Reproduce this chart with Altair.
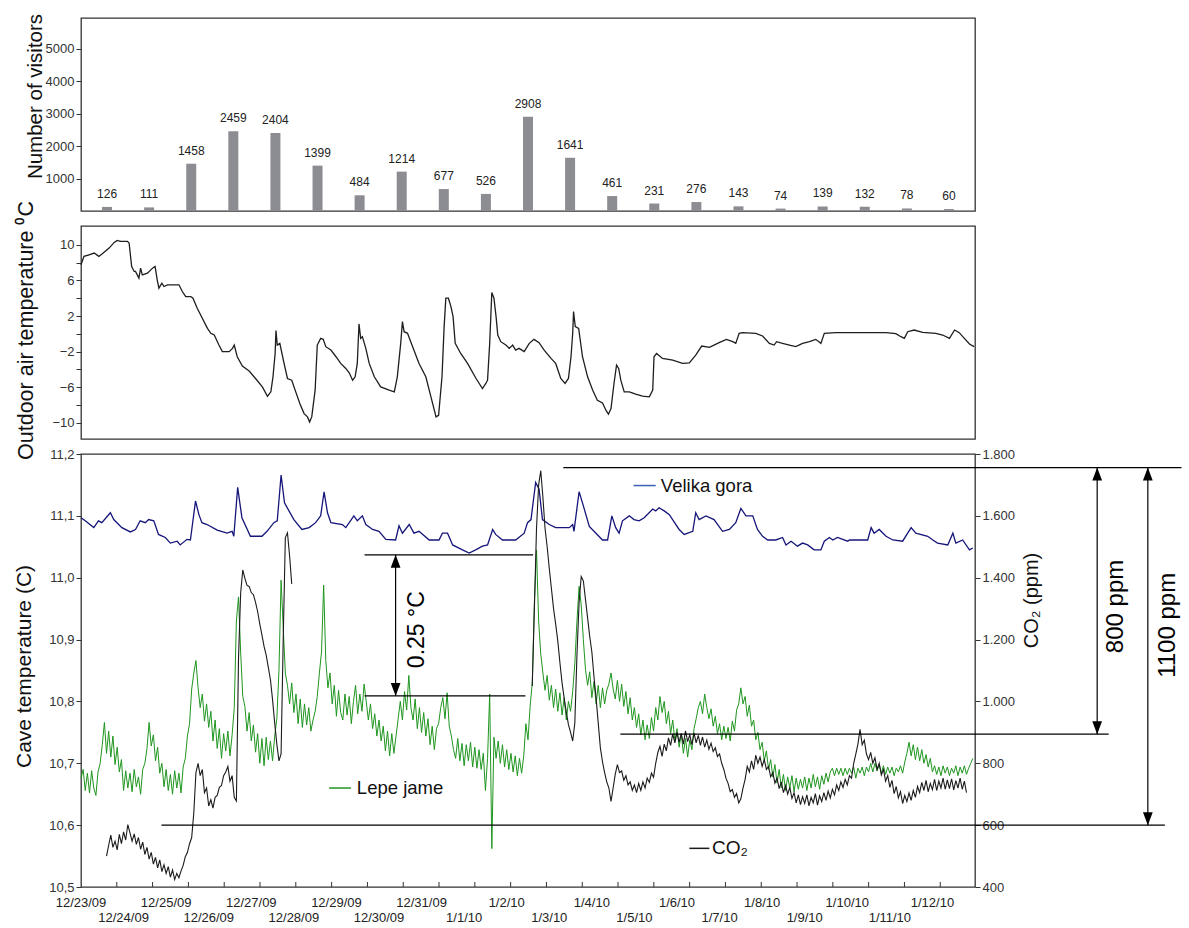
import altair as alt
import pandas as pd

FONT = "Liberation Sans"

# ---------------- data ----------------
date_labels = ["12/23/09", "12/24/09", "12/25/09", "12/26/09", "12/27/09", "12/28/09",
               "12/29/09", "12/30/09", "12/31/09", "1/1/10", "1/2/10", "1/3/10", "1/4/10",
               "1/5/10", "1/6/10", "1/7/10", "1/8/10", "1/9/10", "1/10/10", "1/11/10", "1/12/10"]

visitors = [126, 111, 1458, 2459, 2404, 1399, 484, 1214, 677, 526, 2908, 1641, 461, 231,
            276, 143, 74, 139, 132, 78, 60]

# outdoor air temperature (day since 12/23/09 00:00, degC)
outdoor = [(0.00, 7.75), (0.07, 8.69), (0.19, 8.87), (0.31, 9.06), (0.42, 8.69), (0.50, 8.99),
           (0.66, 9.62), (0.78, 10.26), (0.85, 10.49), (0.93, 10.38), (1.09, 10.38), (1.13, 10.19),
           (1.19, 7.56), (1.25, 7.0), (1.28, 7.0), (1.36, 6.25), (1.40, 7.37), (1.44, 6.62),
           (1.56, 6.81), (1.68, 7.37), (1.74, 7.56), (1.79, 6.06), (1.83, 5.12), (1.90, 5.68),
           (1.95, 5.31), (2.03, 5.50), (2.22, 5.50), (2.30, 5.50), (2.38, 4.75), (2.46, 4.18),
           (2.58, 4.18), (2.63, 4.0), (2.73, 2.87), (2.85, 1.74), (2.97, 0.62), (3.05, 0.06),
           (3.13, -0.13), (3.24, -1.26), (3.32, -2.0), (3.48, -2.0), (3.56, -1.63), (3.60, -1.26),
           (3.67, -2.57), (3.79, -3.62), (3.95, -4.18), (4.10, -5.01), (4.26, -5.95), (4.38, -7.0),
           (4.46, -6.51), (4.51, -4.82), (4.56, -2.2), (4.58, 0.36), (4.61, -1.26), (4.67, -1.07),
           (4.77, -3.32), (4.85, -5.01), (4.95, -5.2), (5.03, -6.32), (5.14, -7.82), (5.24, -8.95),
           (5.32, -9.32), (5.37, -9.89), (5.42, -9.32), (5.50, -6.32), (5.55, -1.26), (5.63, -0.51),
           (5.69, -0.62), (5.75, -1.44), (5.87, -1.82), (5.99, -2.57), (6.10, -3.32), (6.22, -3.88),
           (6.30, -4.37), (6.38, -5.2), (6.44, -4.82), (6.49, -3.32), (6.53, 1.11), (6.57, -0.51),
           (6.61, -0.32), (6.69, -1.63), (6.77, -3.32), (6.89, -4.82), (7.04, -5.95), (7.24, -6.32),
           (7.36, -6.51), (7.43, -4.82), (7.51, -1.07), (7.55, 1.37), (7.59, 0.24), (7.67, 0.06),
           (7.79, -1.44), (7.94, -3.32), (8.10, -4.82), (8.22, -7.07), (8.34, -9.32), (8.40, -9.14),
           (8.48, -4.82), (8.53, 0.81), (8.57, 4.0), (8.63, 4.0), (8.69, 3.06), (8.74, 1.93),
           (8.79, -1.07), (8.92, -2.2), (9.08, -3.32), (9.28, -5.01), (9.43, -6.14), (9.51, -5.57),
           (9.55, -5.2), (9.60, -1.07), (9.65, 4.63), (9.70, 4.0), (9.75, 1.93), (9.79, -0.13),
           (9.86, -0.88), (9.98, -1.26), (10.06, -1.63), (10.14, -1.26), (10.21, -1.82), (10.29, -1.63),
           (10.41, -2.0), (10.53, -1.07), (10.64, -0.62), (10.76, -0.99), (10.88, -1.82), (11.04, -2.76),
           (11.15, -3.32), (11.27, -5.01), (11.37, -5.57), (11.45, -5.01), (11.51, -2.57), (11.55, 0.06),
           (11.57, 2.50), (11.61, 0.81), (11.69, 0.62), (11.78, -2.57), (11.90, -4.82), (12.02, -6.32),
           (12.13, -7.45), (12.25, -7.75), (12.33, -8.57), (12.39, -9.02), (12.45, -8.39), (12.52, -5.57),
           (12.58, -3.51), (12.63, -3.88), (12.68, -5.2), (12.76, -6.51), (12.88, -6.51), (13.03, -6.77),
           (13.19, -7.0), (13.35, -7.07), (13.43, -6.32), (13.46, -2.57), (13.52, -2.2), (13.66, -2.76),
           (13.90, -2.95), (14.13, -3.32), (14.29, -3.25), (14.44, -2.38), (14.58, -1.37), (14.76, -1.52),
           (14.99, -0.99), (15.16, -0.62), (15.31, -0.88), (15.38, -1.07), (15.46, 0.06), (15.54, 0.13),
           (15.85, 0.06), (16.01, -0.24), (16.17, -1.07), (16.28, -1.26), (16.34, -0.88), (16.48, -1.07),
           (16.64, -1.26), (16.79, -1.44), (16.95, -1.07), (17.11, -0.88), (17.26, -0.62), (17.38, -1.07),
           (17.46, 0.06), (17.73, 0.13), (18.36, 0.13), (18.91, 0.13), (19.14, 0.02), (19.26, -0.32),
           (19.34, -0.51), (19.42, 0.24), (19.57, 0.43), (19.77, 0.17), (20.08, 0.06), (20.24, -0.13),
           (20.40, -0.51), (20.52, 0.43), (20.63, 0.13), (20.75, -0.51), (20.87, -1.14), (20.98, -1.44)]

# Velika gora cave temperature (day, degC)
velika_gora = [(0.0, 11.097), (0.10, 11.092), (0.30, 11.081), (0.41, 11.092), (0.49, 11.089),
               (0.69, 11.105), (0.77, 11.094), (0.96, 11.081), (1.16, 11.074), (1.28, 11.078),
               (1.39, 11.092), (1.51, 11.089), (1.59, 11.094), (1.71, 11.092), (1.82, 11.070),
               (1.98, 11.065), (2.10, 11.056), (2.26, 11.059), (2.33, 11.053), (2.49, 11.062),
               (2.57, 11.061), (2.69, 11.124), (2.77, 11.102), (2.84, 11.089), (2.96, 11.086),
               (3.20, 11.077), (3.43, 11.072), (3.55, 11.075), (3.59, 11.067), (3.68, 11.146),
               (3.78, 11.097), (3.98, 11.067), (4.25, 11.067), (4.37, 11.075), (4.53, 11.089),
               (4.61, 11.092), (4.70, 11.166), (4.78, 11.121), (5.00, 11.094), (5.19, 11.078),
               (5.36, 11.081), (5.51, 11.089), (5.63, 11.100), (5.71, 11.139), (5.79, 11.105),
               (5.87, 11.089), (6.14, 11.086), (6.22, 11.081), (6.41, 11.100), (6.49, 11.092),
               (6.61, 11.100), (6.69, 11.086), (6.85, 11.078), (7.00, 11.075), (7.16, 11.062),
               (7.39, 11.061), (7.47, 11.084), (7.55, 11.072), (7.71, 11.086), (7.82, 11.072),
               (7.94, 11.075), (8.18, 11.061), (8.41, 11.061), (8.49, 11.072), (8.61, 11.072),
               (8.73, 11.053), (8.96, 11.045), (9.12, 11.040), (9.27, 11.045), (9.43, 11.051),
               (9.55, 11.053), (9.67, 11.078), (9.74, 11.070), (9.90, 11.061), (10.21, 11.061),
               (10.41, 11.072), (10.49, 11.089), (10.57, 11.094), (10.68, 11.154), (10.76, 11.143),
               (10.84, 11.094), (11.00, 11.086), (11.15, 11.081), (11.47, 11.081), (11.55, 11.086),
               (11.58, 11.075), (11.70, 11.139), (11.78, 11.121), (11.94, 11.083), (12.05, 11.075),
               (12.25, 11.061), (12.37, 11.061), (12.47, 11.100), (12.56, 11.081), (12.64, 11.072),
               (12.72, 11.092), (12.88, 11.100), (12.99, 11.094), (13.11, 11.092), (13.23, 11.097),
               (13.43, 11.111), (13.50, 11.108), (13.58, 11.113), (13.70, 11.108), (13.82, 11.102),
               (14.05, 11.078), (14.17, 11.070), (14.37, 11.075), (14.44, 11.105), (14.52, 11.094),
               (14.68, 11.100), (14.87, 11.094), (15.07, 11.075), (15.23, 11.078), (15.38, 11.089),
               (15.50, 11.112), (15.62, 11.100), (15.78, 11.100), (15.89, 11.078), (16.01, 11.067),
               (16.13, 11.061), (16.32, 11.061), (16.48, 11.065), (16.56, 11.053), (16.68, 11.059),
               (16.83, 11.051), (16.95, 11.056), (17.07, 11.053), (17.22, 11.045), (17.38, 11.045),
               (17.46, 11.059), (17.58, 11.065), (17.66, 11.061), (17.77, 11.065), (18.01, 11.059),
               (18.05, 11.061), (18.48, 11.061), (18.56, 11.081), (18.63, 11.072), (18.75, 11.078),
               (18.91, 11.067), (19.07, 11.061), (19.30, 11.059), (19.50, 11.081), (19.61, 11.072),
               (19.89, 11.067), (20.01, 11.061), (20.12, 11.056), (20.36, 11.053), (20.48, 11.072),
               (20.55, 11.056), (20.71, 11.061), (20.87, 11.045), (20.95, 11.048)]

# Lepe jame cave temperature, one reading every 0.05 day from 12/23/09 00:00 (20 per day)
lepe_jame = [
    # 12/23
    10.676, 10.690, 10.656, 10.684, 10.652, 10.688, 10.660, 10.648, 10.686, 10.700,
    10.730, 10.766, 10.716, 10.752, 10.710, 10.744, 10.698, 10.726, 10.686, 10.706,
    # 12/24
    10.656, 10.688, 10.660, 10.684, 10.654, 10.690, 10.662, 10.678, 10.650, 10.690,
    10.700, 10.724, 10.766, 10.728, 10.746, 10.704, 10.726, 10.684, 10.700, 10.662,
    # 12/25
    10.690, 10.656, 10.682, 10.650, 10.688, 10.660, 10.684, 10.652, 10.694, 10.708,
    10.744, 10.764, 10.820, 10.846, 10.866, 10.822, 10.790, 10.812, 10.768, 10.796,
    # 12/26
    10.758, 10.784, 10.736, 10.770, 10.724, 10.756, 10.708, 10.748, 10.720, 10.752,
    10.712, 10.746, 10.790, 10.930, 10.969, 10.880, 10.808, 10.792, 10.752, 10.782,
    # 12/27
    10.736, 10.762, 10.718, 10.748, 10.700, 10.740, 10.696, 10.742, 10.706, 10.736,
    10.704, 10.744, 10.772, 10.850, 10.996, 10.920, 10.846, 10.826, 10.796, 10.830,
    # 12/28
    10.782, 10.812, 10.764, 10.804, 10.758, 10.796, 10.762, 10.790, 10.752, 10.770,
    10.784, 10.808, 10.846, 10.880, 10.988, 10.866, 10.822, 10.846, 10.796, 10.826,
    # 12/29
    10.776, 10.818, 10.782, 10.770, 10.812, 10.778, 10.808, 10.764, 10.800, 10.826,
    10.780, 10.812, 10.784, 10.828, 10.800, 10.770, 10.796, 10.756, 10.780, 10.744,
    # 12/30
    10.770, 10.736, 10.760, 10.720, 10.752, 10.712, 10.748, 10.716, 10.744, 10.772,
    10.800, 10.770, 10.816, 10.786, 10.842, 10.790, 10.770, 10.804, 10.756, 10.790,
    # 12/31
    10.750, 10.782, 10.744, 10.772, 10.730, 10.760, 10.722, 10.756, 10.764, 10.790,
    10.806, 10.772, 10.814, 10.760, 10.744, 10.722, 10.708, 10.740, 10.704, 10.732,
    # 1/1
    10.696, 10.730, 10.704, 10.734, 10.694, 10.726, 10.692, 10.722, 10.690, 10.716,
    10.656, 10.708, 10.812, 10.562, 10.742, 10.708, 10.736, 10.700, 10.730, 10.694,
    # 1/2
    10.722, 10.690, 10.716, 10.686, 10.712, 10.680, 10.708, 10.684, 10.712, 10.764,
    10.738, 10.792, 10.830, 10.960, 11.045, 10.930, 10.876, 10.846, 10.818, 10.842,
    # 1/3
    10.802, 10.826, 10.790, 10.820, 10.784, 10.814, 10.778, 10.806, 10.770, 10.800,
    10.784, 10.816, 10.862, 10.930, 10.986, 10.956, 10.900, 10.852, 10.826, 10.848,
    # 1/4
    10.806, 10.832, 10.796, 10.826, 10.790, 10.822, 10.796, 10.818, 10.828, 10.846,
    10.820, 10.804, 10.834, 10.800, 10.828, 10.792, 10.816, 10.780, 10.806, 10.770,
    # 1/5
    10.790, 10.758, 10.780, 10.746, 10.770, 10.738, 10.762, 10.740, 10.774, 10.752,
    10.790, 10.770, 10.808, 10.782, 10.800, 10.764, 10.784, 10.748, 10.770, 10.736,
    # 1/6
    10.756, 10.726, 10.748, 10.716, 10.740, 10.710, 10.738, 10.722, 10.756, 10.772,
    10.790, 10.800, 10.780, 10.812, 10.790, 10.772, 10.788, 10.760, 10.776, 10.748,
    # 1/7
    10.764, 10.738, 10.760, 10.740, 10.758, 10.736, 10.768, 10.752, 10.786, 10.796,
    10.822, 10.796, 10.808, 10.776, 10.794, 10.760, 10.770, 10.738, 10.750, 10.722,
    # 1/8
    10.734, 10.704, 10.720, 10.690, 10.706, 10.678, 10.698, 10.668, 10.690, 10.660,
    10.682, 10.656, 10.678, 10.660, 10.680, 10.654, 10.676, 10.658, 10.674, 10.660,
    # 1/9
    10.678, 10.656, 10.676, 10.660, 10.682, 10.662, 10.678, 10.658, 10.680, 10.666,
    10.684, 10.670, 10.686, 10.692, 10.680, 10.692, 10.682, 10.692, 10.680, 10.692,
    # 1/10
    10.682, 10.692, 10.684, 10.694, 10.676, 10.692, 10.684, 10.694, 10.680, 10.694,
    10.686, 10.700, 10.686, 10.700, 10.688, 10.698, 10.684, 10.696, 10.682, 10.694,
    # 1/11
    10.684, 10.694, 10.680, 10.692, 10.686, 10.696, 10.684, 10.702, 10.716, 10.734,
    10.712, 10.730, 10.706, 10.726, 10.704, 10.722, 10.700, 10.714, 10.694, 10.708,
    # 1/12
    10.686, 10.696, 10.682, 10.694, 10.680, 10.696, 10.684, 10.694, 10.680, 10.692,
    10.684, 10.696, 10.680, 10.694, 10.684, 10.696, 10.682, 10.692, 10.700, 10.708,
]
lepe_step = 0.05

# CO2 (ppm), one reading every 0.05 day; first run starts at day 0.6, second at day 10.6
co2_step = 0.05
co2_start = [0.6, 10.6]
co2_run1 = [
    500, 535, 568, 528, 548, 520, 570, 540,
    578, 552, 602, 575, 548, 572, 538, 560, 522, 545, 505, 528, 490, 512, 474, 496, 462, 488, 450, 472,
    444, 466, 432, 455, 424, 444, 430, 452, 470, 498, 512, 540, 560, 640, 770, 800, 760, 780, 705, 720,
    662, 682, 655, 690, 696, 722, 728, 760, 772, 790, 742, 760, 690, 678, 1140, 1350, 1425, 1398, 1375, 1372,
    1352, 1345, 1320, 1290, 1250, 1215, 1178, 1150, 1110, 1070, 1005, 930, 862, 808, 830, 1200, 1530, 1545, 1470, 1380,
]
co2_run2 = [
    1050, 1300, 1560, 1700, 1746, 1660, 1560, 1500,
    1430, 1365, 1300, 1250, 1195, 1125, 1060, 1010, 965, 925, 900, 872, 930, 1150, 1320, 1404, 1390, 1330, 1270, 1210,
    1160, 1080, 1010, 930, 850, 805, 770, 740, 720, 677, 720, 765, 796, 770, 775, 745, 760, 730, 740, 712,
    730, 705, 735, 712, 740, 720, 752, 738, 768, 755, 800, 835, 855, 822, 862, 840, 882, 858, 895, 866,
    900, 868, 896, 862, 905, 870, 892, 860, 898, 866, 890, 858, 885, 852, 875, 845, 865, 838, 850, 822,
    830, 800, 780, 752, 735, 708, 715, 690, 702, 672, 685, 720, 748, 790, 772, 808, 780, 826, 800, 820,
    790, 812, 780, 790, 756, 770, 736, 752, 718, 740, 705, 728, 700, 722, 686, 705, 672, 698, 666, 692,
    670, 698, 662, 690, 672, 702, 665, 695, 676, 705, 680, 710, 688, 716, 698, 730, 712, 740, 722, 748,
    730, 760, 752, 800, 830, 862, 910, 860, 875, 830, 812, 835, 800, 818, 780, 800, 762, 780, 742, 760,
    722, 745, 702, 725, 688, 708, 670, 696, 676, 704, 680, 712, 690, 725, 705, 738, 712, 745, 708, 735,
    715, 748, 712, 742, 720, 752, 716, 746, 718, 750, 714, 744, 720, 752, 716, 742, 705,
]

# ---------------- layout / styling ----------------
W = 894
H_TOP, H_MID, H_BOT = 193, 213, 433

xs = alt.Scale(domain=[0, 21], nice=False, zero=False)
X = alt.X("day:Q", scale=xs, axis=None)

axis_common = dict(domain=False, grid=False, labelFont=FONT, labelFontSize=13,
                   labelColor="#333", tickColor="#333", tickSize=5,
                   titleFont=FONT, titleFontWeight="normal", titleColor="#111")

# ---- top: visitors ----
bars_df = pd.DataFrame({"day": [i + 0.5 for i in range(len(visitors))], "visitors": visitors})
Y_top = alt.Y("visitors:Q", scale=alt.Scale(domain=[0, 5950], nice=False),
              axis=alt.Axis(values=[1000, 2000, 3000, 4000, 5000], format="d",
                            title="Number of visitors", titleX=-40, titleY=78, titleFontSize=20.5,
                            titleBaseline="alphabetic", **axis_common))
top = alt.layer(
    alt.Chart(bars_df).mark_bar(size=10, color="#8b8d93").encode(x=X, y=Y_top),
    alt.Chart(bars_df).mark_text(dy=-13, font=FONT, fontSize=12, color="#222").encode(
        x=X, y=Y_top, text=alt.Text("visitors:Q", format="d")),
).properties(width=W, height=H_TOP)

# ---- middle: outdoor temperature ----
out_df = pd.DataFrame(outdoor, columns=["day", "t"])
mid = alt.Chart(out_df).mark_line(color="#1e1e1e", strokeWidth=1.3).encode(
    x=X,
    y=alt.Y("t:Q", scale=alt.Scale(domain=[-11.8, 12.1], nice=False, zero=False),
            axis=alt.Axis(values=[-10, -8, -6, -4, -2, 0, 2, 4, 6, 8, 10],
                          labelExpr="abs(datum.value % 4) == 2 ? datum.label : ''",
                          title="Outdoor air temperature \u2070C", titleX=-49, titleY=104,
                          titleFontSize=21.5, titleBaseline="alphabetic", **axis_common)),
).properties(width=W, height=H_MID)

# ---- bottom: cave temperatures + CO2 ----
Y_L = alt.Y("T:Q", scale=alt.Scale(domain=[10.5, 11.2], nice=False, zero=False),
            axis=alt.Axis(values=[10.5, 10.6, 10.7, 10.8, 10.9, 11.0, 11.1, 11.2],
                          labelExpr="replace(format(datum.value, '.1f'), '.', ',')",
                          title="Cave temperature (C)", titleX=-51, titleY=212, titleFontSize=21,
                          titleBaseline="alphabetic", **axis_common))
Y_R = alt.Y("ppm:Q", scale=alt.Scale(domain=[400, 1800], nice=False, zero=False),
            axis=alt.Axis(orient="right", values=[400, 600, 800, 1000, 1200, 1400, 1600, 1800],
                          labelExpr="replace(format(datum.value, ','), ',', '.')",
                          title="CO\u2082 (ppm)", titleAngle=270, titleBaseline="top",
                          titleFontSize=20, titlePadding=7, titleY=146, **axis_common))

UP = "M0,-1L0.6,0.6L-0.6,0.6Z"
DOWN = "M0,1L0.6,-0.6L-0.6,-0.6Z"

lepe_df = pd.DataFrame({"day": [round(i * lepe_step, 3) for i in range(len(lepe_jame))], "T": lepe_jame})
vel_df = pd.DataFrame(velika_gora, columns=["day", "T"])

green_line = alt.Chart(lepe_df).mark_line(color="#1f951f", strokeWidth=1).encode(x=X, y=Y_L)
blue_line = alt.Chart(vel_df).mark_line(color="#15157a", strokeWidth=1.3).encode(x=X, y=Y_L)

bracket_c = pd.DataFrame({"day": [6.66, 6.66], "day2": [10.62, 10.44], "T": [11.037, 10.809]})
hl_c = alt.Chart(bracket_c).mark_rule(color="black", strokeWidth=1.2).encode(x=X, x2="day2:Q", y=Y_L)
arrow_c = pd.DataFrame({"day": [7.39], "T": [10.809], "T2": [11.037]})
va_c = alt.Chart(arrow_c).mark_rule(color="black", strokeWidth=1.2).encode(x=X, y=Y_L, y2="T2:Q")
up_c = alt.Chart(pd.DataFrame({"day": [7.39], "T": [11.037]})).mark_point(
    shape=UP, size=264, filled=True, color="black", opacity=1, yOffset=8).encode(x=X, y=Y_L)
dn_c = alt.Chart(pd.DataFrame({"day": [7.39], "T": [10.809]})).mark_point(
    shape=DOWN, size=264, filled=True, color="black", opacity=1, yOffset=-8).encode(x=X, y=Y_L)
txt_c = alt.Chart(pd.DataFrame({"day": [7.90], "T": [10.916], "label": ["0.25 \u00b0C"]})).mark_text(
    angle=270, font=FONT, fontSize=23, color="black").encode(x=X, y=Y_L, text="label:N")

leg_lines = pd.DataFrame({"day": [12.98, 5.83], "day2": [13.50, 6.34], "T": [11.149, 10.660],
                          "series": ["Velika gora", "Lepe jame"]})
leg_rule = alt.Chart(leg_lines).mark_rule(strokeWidth=1.5).encode(
    x=X, x2="day2:Q", y=Y_L,
    color=alt.Color("series:N", scale=alt.Scale(domain=["Velika gora", "Lepe jame"],
                                                range=["#3d5fb8", "#1f951f"]), legend=None))
leg_txt = alt.Chart(pd.DataFrame({"day": [13.62, 6.48], "T": [11.149, 10.660],
                                  "label": ["Velika gora", "Lepe jame"]})).mark_text(
    align="left", font=FONT, fontSize=18.5, color="#111").encode(x=X, y=Y_L, text="label:N")

lab_df = pd.DataFrame({"day": list(range(len(date_labels))), "label": date_labels})
xl_even = alt.Chart(lab_df).transform_filter("datum.day % 2 == 0").mark_text(
    font=FONT, fontSize=13, color="#222").encode(x=X, y=alt.value(H_BOT + 16), text="label:N")
xl_odd = alt.Chart(lab_df).transform_filter("datum.day % 2 == 1").mark_text(
    font=FONT, fontSize=13, color="#222").encode(x=X, y=alt.value(H_BOT + 31), text="label:N")
tick_df = pd.DataFrame({"day": [round(0.841 * k, 3) for k in range(1, 25)]})
xt = alt.Chart(tick_df).mark_rule(color="#333").encode(x=X, y=alt.value(H_BOT), y2=alt.value(H_BOT - 5))

left_grp = alt.layer(green_line, blue_line, hl_c, va_c, up_c, dn_c, txt_c,
                     leg_rule, leg_txt, xl_even, xl_odd, xt)

co2_df = pd.concat([
    pd.DataFrame({"day": [round(co2_start[0] + co2_step * i, 3) for i in range(len(co2_run1))],
                  "ppm": co2_run1, "seg": "a"}),
    pd.DataFrame({"day": [round(co2_start[1] + co2_step * i, 3) for i in range(len(co2_run2))],
                  "ppm": co2_run2, "seg": "b"}),
])
co2_line = alt.Chart(co2_df).mark_line(color="#1b1b1b", strokeWidth=1.1).encode(
    x=X, y=Y_R, detail="seg:N")

hl_p = alt.Chart(pd.DataFrame({"day": [11.33, 12.67, 1.89], "day2": [25.85, 24.14, 25.46],
                               "ppm": [1756, 894, 600]})).mark_rule(
    color="black", strokeWidth=1.2).encode(x=X, x2="day2:Q", y=Y_R)
va_p = alt.Chart(pd.DataFrame({"day": [23.87, 25.06], "ppm": [894, 600], "ppm2": [1756, 1756]})).mark_rule(
    color="black", strokeWidth=1.2).encode(x=X, y=Y_R, y2="ppm2:Q")
up_p = alt.Chart(pd.DataFrame({"day": [23.87, 25.06], "ppm": [1756, 1756]})).mark_point(
    shape=UP, size=264, filled=True, color="black", opacity=1, yOffset=8).encode(x=X, y=Y_R)
dn_p = alt.Chart(pd.DataFrame({"day": [23.87, 25.06], "ppm": [894, 600]})).mark_point(
    shape=DOWN, size=264, filled=True, color="black", opacity=1, yOffset=-8).encode(x=X, y=Y_R)
txt_p = alt.Chart(pd.DataFrame({"day": [24.31, 25.53], "ppm": [1307, 1246],
                                "label": ["800 ppm", "1100 ppm"]})).mark_text(
    angle=270, font=FONT, fontSize=24, color="black").encode(x=X, y=Y_R, text="label:N")
co2_leg_rule = alt.Chart(pd.DataFrame({"day": [14.29], "day2": [14.76], "ppm": [525]})).mark_rule(
    color="#1b1b1b", strokeWidth=1.5).encode(x=X, x2="day2:Q", y=Y_R)
co2_leg_txt = alt.Chart(pd.DataFrame({"day": [14.82], "ppm": [525], "label": ["CO\u2082"]})).mark_text(
    align="left", font=FONT, fontSize=19, color="#111").encode(x=X, y=Y_R, text="label:N")

right_grp = alt.layer(co2_line, hl_p, va_p, up_p, dn_p, txt_p, co2_leg_rule, co2_leg_txt)

bot = alt.layer(left_grp, right_grp).resolve_scale(y="independent").properties(width=W, height=H_BOT)

chart = alt.vconcat(top, mid, bot, spacing=15, bounds="flush").properties(
    padding={"left": 12, "top": 12, "right": 5, "bottom": 5},
    background="white",
).configure_view(stroke="#333", strokeWidth=1.3)

chart.save("out.html", embed_options={"renderer": "svg", "actions": False})
